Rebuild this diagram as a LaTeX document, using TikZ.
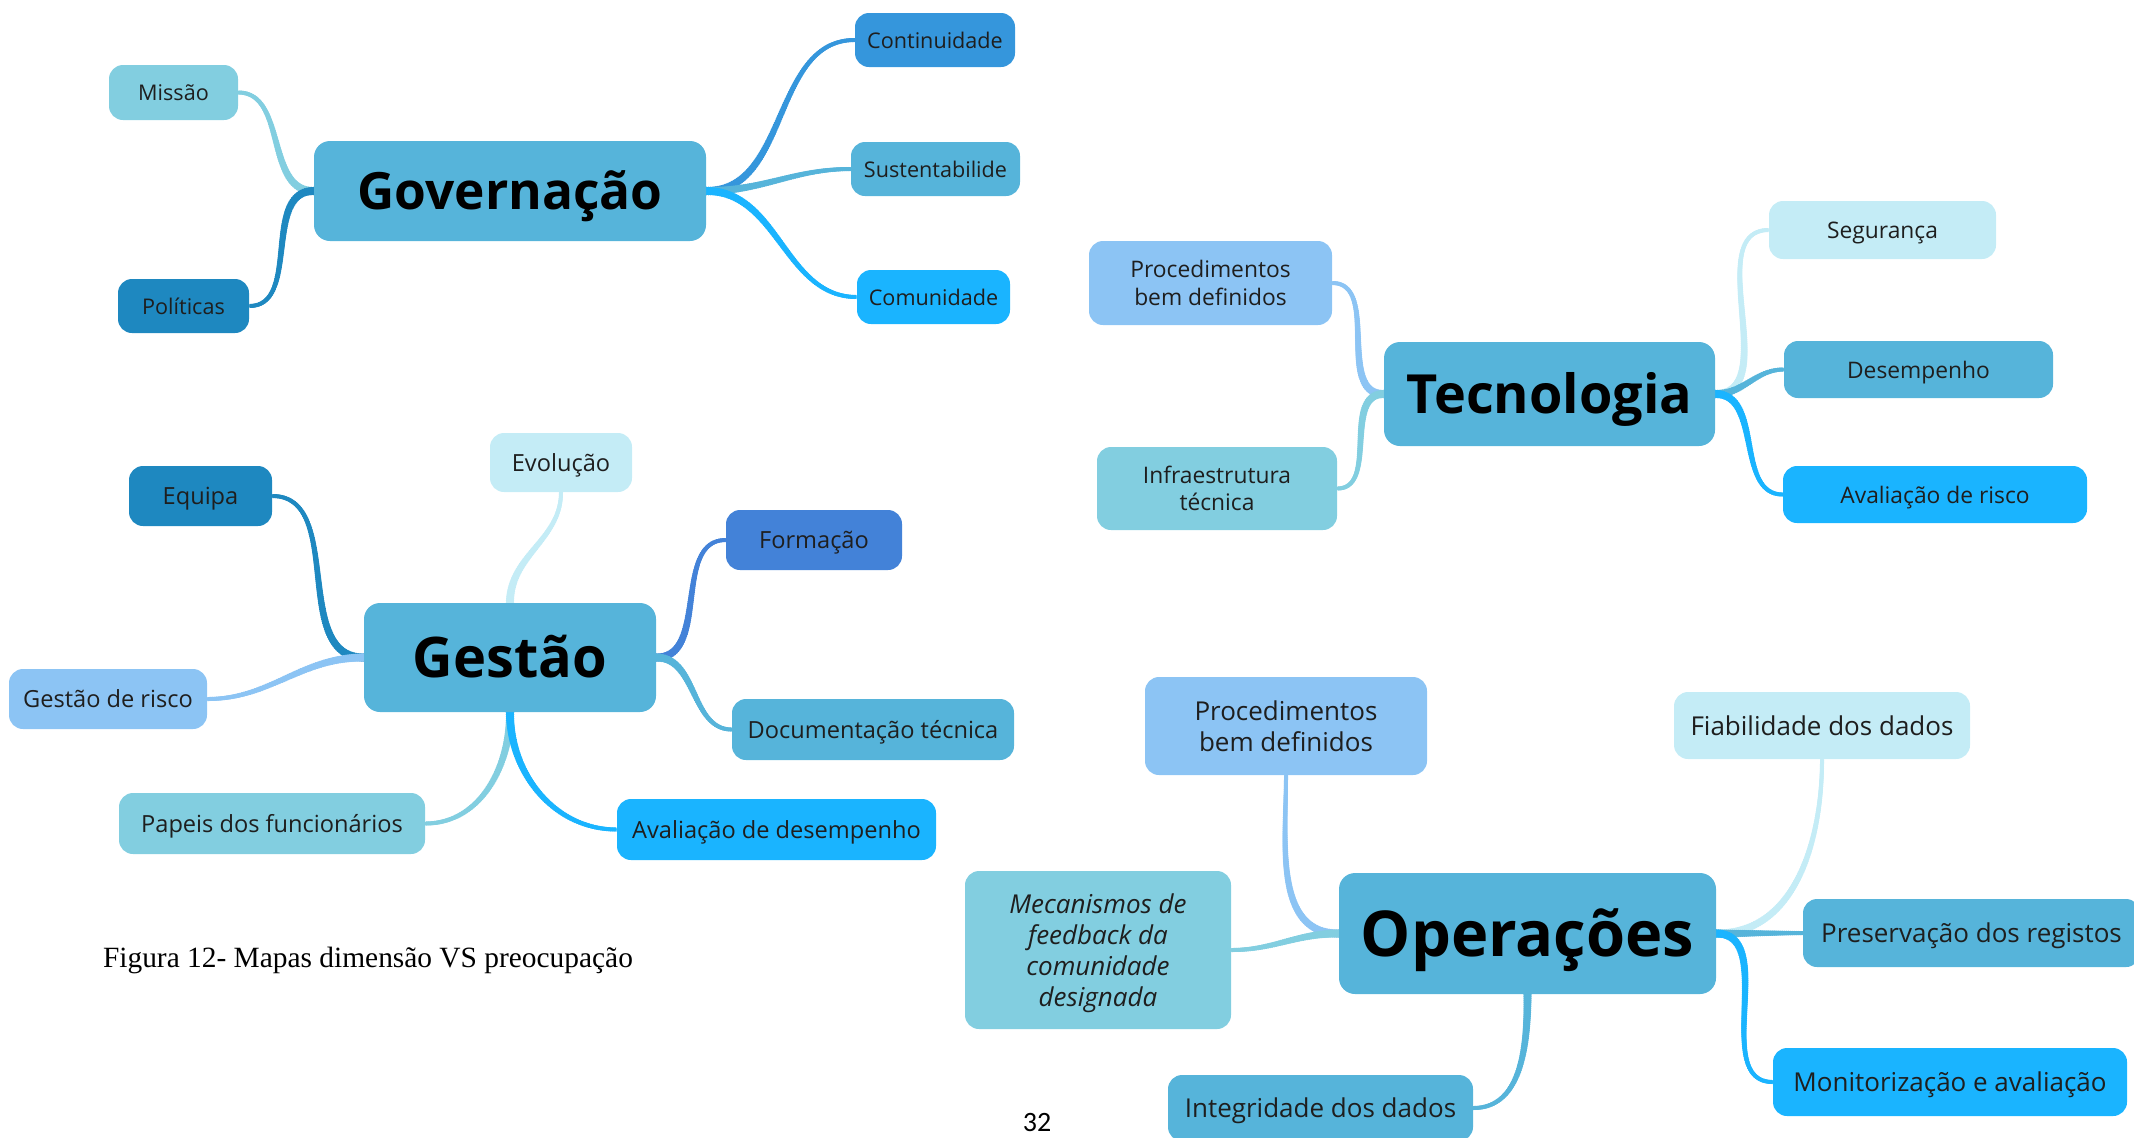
\documentclass[tikz,border=0pt]{standalone}
\usepackage{fontspec}
\setmainfont{Open Sans}
\newfontfamily\capfont{Liberation Serif}
\newfontfamily\numfont{Carlito}
\usepackage{tikz}
\usetikzlibrary{decorations.markings}
\pgfdeclarelayer{edges}
\pgfsetlayers{edges,main}

\definecolor{hub}{HTML}{56B4DA}
\definecolor{cteal}{HTML}{82CEE0}
\definecolor{cdark}{HTML}{1E88C0}
\definecolor{cmid}{HTML}{3596DC}
\definecolor{cbright}{HTML}{1AB4FF}
\definecolor{cpale}{HTML}{C4ECF6}
\definecolor{csky}{HTML}{8CC4F4}
\definecolor{croyal}{HTML}{4382D8}
\definecolor{ink}{HTML}{1E1E1E}

\begin{document}
\begin{tikzpicture}[x=0.5pt,y=-0.5pt,
	hubbox/.style={fill=hub, rounded corners=8pt, inner sep=0pt, text=black, text depth=0.1em, font=\bfseries\fontsize{#1}{#1}\selectfont},
	leaf/.style={rounded corners=7pt, inner sep=0pt, text=ink, text depth=0pt, align=center, font=\fontsize{#1}{\fpeval{1.2*#1}}\selectfont},
	branch/.style={line width=2pt, decoration={markings, mark=between positions 0 and 1 step 1pt with {\pgfmathsetmacro\rad{2.1-1.1*\pgfkeysvalueof{/pgf/decoration/mark info/distance from start}/\pgfdecoratedpathlength}\fill (0,0) circle (\rad pt);}}, postaction={decorate}}]
	\useasboundingbox (0,0) rectangle (2134,1137);

	\node[hubbox=25.7, minimum width=196pt, minimum height=50pt] (gov) at (510,191) {Governação};
	\node[leaf=10.8, fill=cteal, minimum width=64.5pt, minimum height=27.5pt] (missao) at (173.5,92.5) {Missão};
	\node[leaf=10.8, fill=cdark, minimum width=65.5pt, minimum height=27pt] (politicas) at (183.5,306) {Políticas};
	\node[leaf=10.8, fill=cmid, minimum width=80pt, minimum height=27pt] (continuidade) at (935,40) {Continuidade};
	\node[leaf=10.8, fill=hub, minimum width=84.5pt, minimum height=27pt] (sustent) at (935.5,169) {Sustentabilide};
	\node[leaf=10.8, fill=cbright, minimum width=76.5pt, minimum height=27pt] (comunidade) at (933.5,297) {Comunidade};

	\node[hubbox=27, minimum width=165.5pt, minimum height=52pt] (tec) at (1549.5,394) {Tecnologia};
	\node[leaf=11.4, fill=csky, minimum width=121.5pt, minimum height=42pt] (procT) at (1210.5,283) {Procedimentos\\bem definidos};
	\node[leaf=11.4, fill=cteal, minimum width=120pt, minimum height=41.5pt] (infra) at (1217,488.5) {Infraestrutura\\técnica};
	\node[leaf=11.4, fill=cpale, minimum width=113.5pt, minimum height=29pt] (seguranca) at (1882.5,230) {Segurança};
	\node[leaf=11.4, fill=hub, minimum width=134.5pt, minimum height=28.5pt] (desempenho) at (1918.5,369.5) {Desempenho};
	\node[leaf=11.4, fill=cbright, minimum width=152pt, minimum height=28.5pt] (avalR) at (1935,494.5) {Avaliação de risco};

	\node[hubbox=28, minimum width=146pt, minimum height=54.5pt] (gest) at (510,657.5) {Gestão};
	\node[leaf=11.8, fill=cpale, minimum width=71pt, minimum height=29.5pt] (evolucao) at (561,462.5) {Evolução};
	\node[leaf=11.8, fill=cdark, minimum width=71.5pt, minimum height=30pt] (equipa) at (200.5,496) {Equipa};
	\node[leaf=11.8, fill=croyal, minimum width=88pt, minimum height=30pt] (formacao) at (814,540) {Formação};
	\node[leaf=11.8, fill=csky, minimum width=99pt, minimum height=30pt] (gRisco) at (108,699) {Gestão de risco};
	\node[leaf=11.8, fill=hub, minimum width=141pt, minimum height=30.5pt] (doc) at (873,729.5) {Documentação técnica};
	\node[leaf=11.8, fill=cteal, minimum width=153pt, minimum height=30.5pt] (papeis) at (272,823.5) {Papeis dos funcionários};
	\node[leaf=11.8, fill=cbright, minimum width=159.5pt, minimum height=30.5pt] (avalD) at (776.5,829.5) {Avaliação de desempenho};

	\node[hubbox=31.6, minimum width=188.5pt, minimum height=60.5pt] (ops) at (1527.5,933.5) {Operações};
	\node[leaf=13, fill=csky, minimum width=141pt, minimum height=49pt] (procO) at (1286,726) {Procedimentos\\bem definidos};
	\node[leaf=13, fill=cteal, minimum width=133pt, minimum height=79pt, font=\itshape\fontsize{13}{15.6}\selectfont] (mec) at (1098,950) {Mecanismos de\\feedback da\\comunidade\\designada};
	\node[leaf=13, fill=cpale, minimum width=148pt, minimum height=33.5pt] (fiab) at (1822,725.5) {Fiabilidade dos dados};
	\node[leaf=13, fill=hub, minimum width=168.5pt, minimum height=34pt] (pres) at (1971.5,933) {Preservação dos registos};
	\node[leaf=13, fill=cbright, minimum width=177pt, minimum height=34pt] (mon) at (1950,1082) {Monitorização e avaliação};
	\node[leaf=13, fill=hub, minimum width=152.5pt, minimum height=33pt] (integ) at (1320.5,1108) {Integridade dos dados};

	\begin{pgfonlayer}{edges}
	\draw[branch, cteal] (gov.west) to[out=180,in=0] (missao.east);
	\draw[branch, cdark] (gov.west) to[out=180,in=0] (politicas.east);
	\draw[branch, cmid] (gov.east) to[out=0,in=180] (continuidade.west);
	\draw[branch, hub] (gov.east) to[out=0,in=180] (sustent.west);
	\draw[branch, cbright] (gov.east) to[out=0,in=180] (comunidade.west);

	\draw[branch, csky] (tec.west) to[out=180,in=0] (procT.east);
	\draw[branch, cteal] (tec.west) to[out=180,in=0] (infra.east);
	\draw[branch, cpale] (tec.east) to[out=0,in=180] (seguranca.west);
	\draw[branch, hub] (tec.east) to[out=0,in=180] (desempenho.west);
	\draw[branch, cbright] (tec.east) to[out=0,in=180] (avalR.west);

	\draw[branch, cpale] (gest.north) to[out=90,in=270] (evolucao.south);
	\draw[branch, cdark] (gest.west) to[out=180,in=0] (equipa.east);
	\draw[branch, csky] (gest.west) to[out=180,in=0] (gRisco.east);
	\draw[branch, cteal] (gest.south) to[out=270,in=0] (papeis.east);
	\draw[branch, cbright] (gest.south) to[out=270,in=180] (avalD.west);
	\draw[branch, croyal] (gest.east) to[out=0,in=180] (formacao.west);
	\draw[branch, hub] (gest.east) to[out=0,in=180] (doc.west);

	\draw[branch, csky] (ops.west) to[out=180,in=270] (procO.south);
	\draw[branch, cteal] (ops.west) to[out=180,in=0] (mec.east);
	\draw[branch, hub] (ops.south) to[out=270,in=0] (integ.east);
	\draw[branch, cpale] (ops.east) to[out=0,in=270] (fiab.south);
	\draw[branch, hub] (ops.east) to[out=0,in=180] (pres.west);
	\draw[branch, cbright] (ops.east) to[out=0,in=180] (mon.west);
	\end{pgfonlayer}

	\node[font=\capfont\fontsize{14.7}{17}\selectfont, anchor=west] (caption) at (96,960) {Figura 12- Mapas dimensão VS preocupação};
	\node[font=\numfont\fontsize{14}{16}\selectfont] (pagenum) at (1037,1122) {32};
\end{tikzpicture}
\end{document}
